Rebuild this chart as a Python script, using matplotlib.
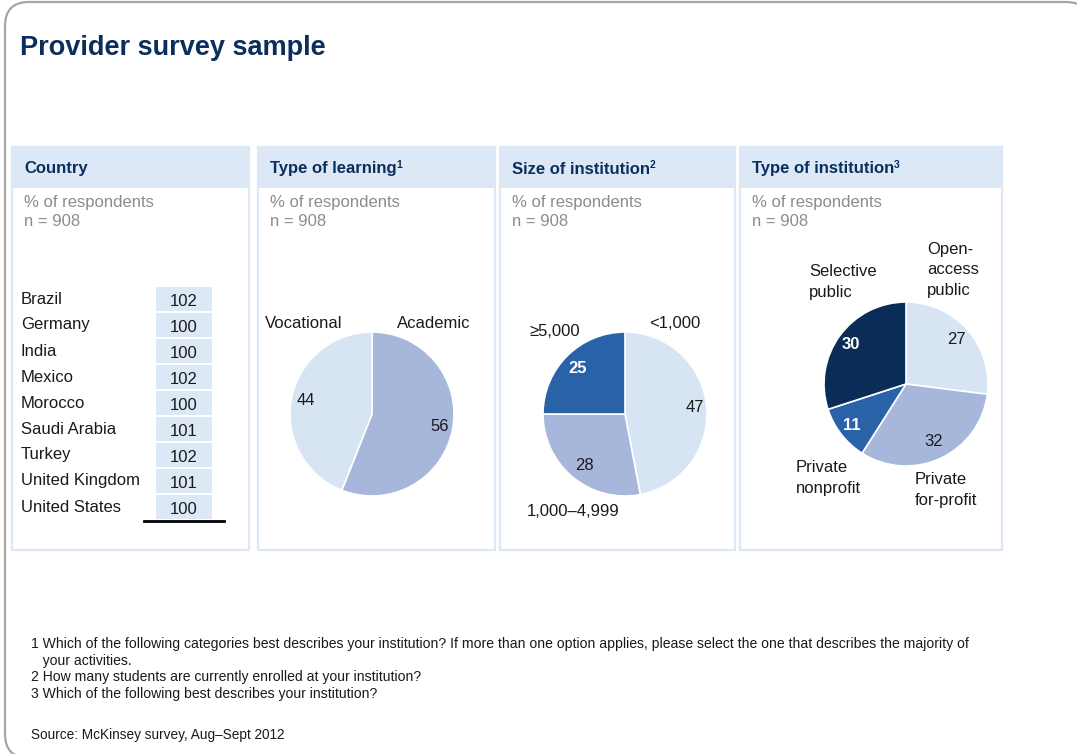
import numpy as np
import matplotlib
matplotlib.use('Agg')
import matplotlib.pyplot as plt
from matplotlib.patches import FancyBboxPatch, Rectangle

plt.rcParams['font.family'] = ['Liberation Sans', 'DejaVu Sans']

# ---- data ----
countries = ['Brazil', 'Germany', 'India', 'Mexico', 'Morocco', 'Saudi Arabia',
             'Turkey', 'United Kingdom', 'United States']
country_counts = [102, 100, 100, 102, 100, 101, 102, 101, 100]

learning_labels = ['Academic', 'Vocational']
learning_values = [56, 44]

size_labels = ['<1,000', '1,000\u20134,999', '\u22655,000']
size_values = [47, 28, 25]

type_labels = ['Open-\naccess\npublic', 'Private\nfor-profit', 'Private\nnonprofit', 'Selective\npublic']
type_values = [27, 32, 11, 30]

footnotes = [
    '1 Which of the following categories best describes your institution? If more than one option applies, '
    'please select the one that describes the majority of',
    '   your activities.',
    '2 How many students are currently enrolled at your institution?',
    '3 Which of the following best describes your institution?',
]
source = 'Source: McKinsey survey, Aug\u2013Sept 2012'

# ---- colours ----
navy = '#0b2f5c'
band = '#dce8f5'
light = '#d6e4f4'
peri = '#a7b6db'
mid = '#2a62a8'
dark = '#0a2d58'
grey = '#8c8c8c'
ink = '#1a1a1a'

W, H = 1077, 754
fig = plt.figure(figsize=(W / 100, H / 100), dpi=100)
ax = fig.add_axes([0, 0, 1, 1])
ax.set_xlim(0, W)
ax.set_ylim(H, 0)
ax.axis('off')

# outer rounded frame
ax.add_patch(FancyBboxPatch((5, 2), 1085, 756, boxstyle='round,pad=0,rounding_size=24',
                            fc='white', ec='#a9a5a0', lw=1.6))

ax.text(20, 48, 'Provider survey sample', fontsize=19.5, fontweight='bold',
        color=navy, va='center', ha='left')

# panels
panels = [(12, 249), (258, 495), (500, 735), (740, 1002)]
headers = ['Country', 'Type of learning', 'Size of institution', 'Type of institution']
sups = ['', '1', '2', '3']
renderer = fig.canvas.get_renderer()
for (x0, x1), head, sup in zip(panels, headers, sups):
    ax.add_patch(Rectangle((x0, 147), x1 - x0, 403, fc='white', ec=band, lw=1.6))
    ax.add_patch(Rectangle((x0, 147), x1 - x0, 41, fc=band, ec='none'))
    t = ax.text(x0 + 12, 169, head, fontsize=12, fontweight='bold', color=navy,
                va='center', ha='left')
    if sup:
        bb = t.get_window_extent(renderer)
        ax.text(bb.x1, 165, sup, fontsize=7.5, fontweight='bold', color=navy,
                va='center', ha='left')
    ax.text(x0 + 12, 202, '% of respondents', fontsize=12, color=grey, va='center')
    ax.text(x0 + 12, 222, 'n = 908', fontsize=12, color=grey, va='center')

# country table
row_y = 299 + 26 * np.arange(len(countries))
ax.barh(row_y, [56] * len(countries), left=156, height=24, color=band)
for y, name, val in zip(row_y, countries, country_counts):
    ax.text(21, y, name, fontsize=12, color=ink, va='center', ha='left')
    ax.text(184, y + 2, str(val), fontsize=12, color=ink, va='center', ha='center')
ax.plot([144, 224], [521, 521], color='black', lw=2)


def pie_axes(cx, cy, r=82):
    return fig.add_axes([(cx - r) / W, (H - cy - r) / H, 2 * r / W, 2 * r / H])


def draw_pie(a, values, colors, dist, whites):
    wedges, _ = a.pie(values, colors=colors, startangle=90, counterclock=False,
                      wedgeprops=dict(edgecolor='white', linewidth=1.2))
    for w, v, d, wh in zip(wedges, values, dist, whites):
        ang = np.deg2rad((w.theta1 + w.theta2) / 2)
        a.text(d[0] * np.cos(ang), d[1] * np.sin(ang), str(v), ha='center', va='center',
               fontsize=12, color='white' if wh else ink,
               fontweight='bold' if wh else 'normal')
    a.set_xlim(-1, 1)
    a.set_ylim(-1, 1)
    a.axis('off')


# type of learning
a1 = pie_axes(372, 414)
draw_pie(a1, learning_values, [peri, light], [(0.84, 0.84), (0.82, 0.9)], [False, False])
ax.text(304, 324, learning_labels[1], fontsize=12, color=ink, ha='center', va='center')
ax.text(434, 324, learning_labels[0], fontsize=12, color=ink, ha='center', va='center')

# size of institution
a2 = pie_axes(625, 414)
draw_pie(a2, size_values, [light, peri, mid], [(0.85, 0.9), (0.77, 0.82), (0.82, 0.78)],
         [False, False, True])
ax.text(675, 324, size_labels[0], fontsize=12, color=ink, ha='center', va='center')
ax.text(573, 512, size_labels[1], fontsize=12, color=ink, ha='center', va='center')
ax.text(555, 331, size_labels[2], fontsize=12, color=ink, ha='center', va='center')

# type of institution
a3 = pie_axes(906, 384)
draw_pie(a3, type_values, [light, peri, mid, dark], [(0.82, 0.82), (0.8, 0.77), (0.84, 0.82), (0.83, 0.82)],
         [False, False, True, True])
ls = 1.42
ax.text(927, 270, type_labels[0], fontsize=12, color=ink, ha='left', va='center', linespacing=ls)
ax.text(915, 490, type_labels[1], fontsize=12, color=ink, ha='left', va='center', linespacing=ls)
ax.text(796, 478, type_labels[2], fontsize=12, color=ink, ha='left', va='center', linespacing=ls)
ax.text(809, 282, type_labels[3], fontsize=12, color=ink, ha='left', va='center', linespacing=ls)

# footnotes
for i, line in enumerate(footnotes):
    ax.text(31, 644 + 16.7 * i, line, fontsize=10.1, color=ink, va='center', ha='left')
ax.text(31, 735, source, fontsize=9.8, color=ink, va='center', ha='left')

fig.savefig('out.png', dpi=100)
